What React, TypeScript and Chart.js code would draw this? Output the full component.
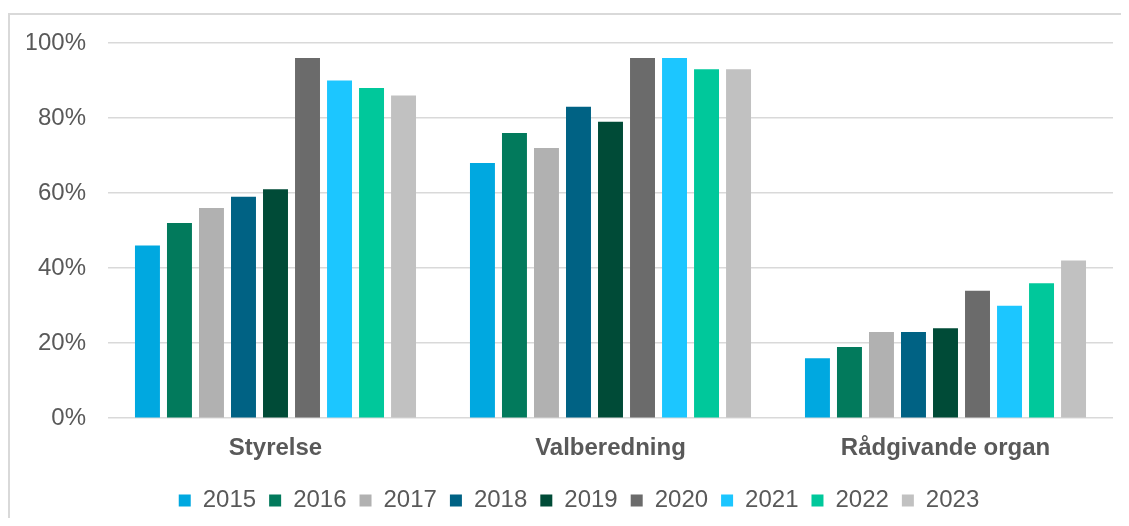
import React, { useEffect, useRef } from "react";
import { Chart, registerables } from "chart.js";

Chart.register(...registerables);

const categories = ["Styrelse", "Valberedning", "Rådgivande organ"];
const years = ["2015", "2016", "2017", "2018", "2019", "2020", "2021", "2022", "2023"];
const values2015 = [46, 68, 16];
const values2016 = [52, 76, 19];
const values2017 = [56, 72, 23];
const values2018 = [59, 83, 23];
const values2019 = [61, 79, 24];
const values2020 = [96, 96, 34];
const values2021 = [90, 96, 30];
const values2022 = [88, 93, 36];
const values2023 = [86, 93, 42];
const seriesValues = [values2015, values2016, values2017, values2018, values2019, values2020, values2021, values2022, values2023];
const seriesColors = ["#00A8E0", "#027A5C", "#B1B1B1", "#006284", "#004B37", "#6B6B6B", "#1CC6FF", "#00C89B", "#C1C1C1"];
const yTicks = [0, 20, 40, 60, 80, 100];

const FONT = "'Liberation Sans', Arial, sans-serif";
const TEXT = "#595959";

const legendShift = {
  id: "legendShift",
  afterLayout(chart: any) {
    const l = chart.legend;
    if (l) {
      l.left += 9;
      l.right += 9;
    }
  },
};

export default function App() {
  const ref = useRef<HTMLCanvasElement | null>(null);
  useEffect(() => {
    if (!ref.current) return;
    const chart = new Chart(ref.current, {
      type: "bar",
      data: {
        labels: categories,
        datasets: years.map((y, i) => ({
          label: y,
          data: seriesValues[i],
          backgroundColor: seriesColors[i],
          borderWidth: 0,
          categoryPercentage: 0.86,
          barPercentage: 0.78,
        })),
      },
      plugins: [legendShift],
      options: {
        animation: false,
        responsive: true,
        maintainAspectRatio: false,
        layout: { padding: { left: 17, right: 16, top: 28, bottom: 3.5 } },
        plugins: {
          tooltip: { enabled: false },
          legend: {
            position: "bottom",
            labels: {
              boxWidth: 12,
              boxHeight: 12,
              padding: 13,
              color: TEXT,
              font: { family: FONT, size: 24 },
            },
          },
        },
        scales: {
          x: {
            grid: { display: false, drawTicks: false },
            border: { display: false },
            afterFit: (scale: any) => {
              scale.height -= 3.5;
            },
            ticks: {
              color: TEXT,
              padding: 16,
              font: { family: FONT, size: 24, weight: "bold" },
            },
          },
          y: {
            min: 0,
            max: 100,
            afterBuildTicks: (scale: any) => {
              scale.ticks = yTicks.map((v) => ({ value: v }));
            },
            afterFit: (scale: any) => {
              scale.width = 81;
              scale.paddingTop = 0;
              scale.paddingBottom = 0;
            },
            grid: { color: "#D9D9D9", lineWidth: 1.5, drawTicks: false },
            border: { display: false },
            ticks: {
              color: TEXT,
              padding: 22,
              font: { family: FONT, size: 24 },
              callback: (v: any) => v + "%",
            },
          },
        },
      },
    });
    return () => chart.destroy();
  }, []);
  return (
    <div style={{ paddingTop: 5 }}>
      <div
        style={{
          width: 1119,
          height: 511,
          marginBottom: -8,
          borderTop: "2px solid #D9D9D9",
          borderLeft: "2px solid #D9D9D9",
          position: "relative",
        }}
      >
        <canvas ref={ref} />
      </div>
    </div>
  );
}
